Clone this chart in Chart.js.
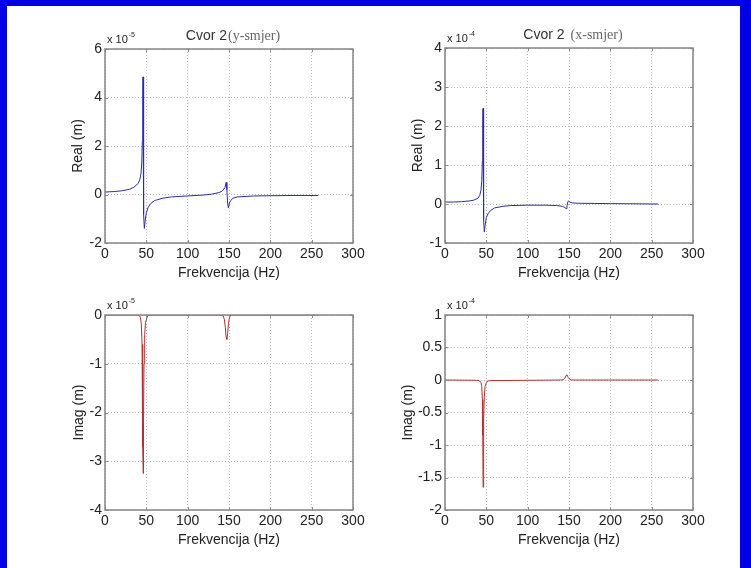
<!DOCTYPE html>
<html>
<head>
<meta charset="utf-8">
<script src="https://cdn.jsdelivr.net/npm/chart.js@4.4.0/dist/chart.umd.min.js"></script>
<style>
  html, body { margin: 0; padding: 0; background: #fff; }
  body { width: 751px; height: 568px; position: relative; overflow: hidden; }
  #frame {
    position: absolute; left: 0; top: 0; width: 751px; height: 568px; box-sizing: border-box;
    border-top: 6px solid #0000e6; border-left: 7px solid #0000e6; border-right: 11px solid #0000e6;
  }
  canvas { position: absolute; }
</style>
</head>
<body>
<div id="frame"></div>
<canvas id="c1"></canvas>
<canvas id="c2"></canvas>
<canvas id="c3"></canvas>
<canvas id="c4"></canvas>
<script>
// ================= DATA =================
// frequency axis ticks (Hz)
const freqTicks = [0, 50, 100, 150, 200, 250, 300];

// Cvor 2 (y-smjer), realni dio, x 10^-5
const freqReY = [0, 10, 20, 30, 35, 40, 42, 43.5, 44.5, 45.2, 45.7, 46, 46.4, 47, 47.6, 48.5, 50, 52, 55, 60,
  70, 80, 100, 120, 130, 138, 142, 145, 146.6, 147.4, 148.3, 149.2, 150.5, 152, 155, 160, 180, 200, 230, 258];
const realY = [0.1, 0.12, 0.15, 0.22, 0.3, 0.45, 0.6, 0.85, 1.3, 2.2, 4.2, 4.85, 1.5, -0.8, -1.4, -1.1, -0.75, -0.55, -0.38, -0.25,
  -0.15, -0.1, -0.06, -0.02, 0.02, 0.08, 0.15, 0.28, 0.5, 0.2, -0.35, -0.55, -0.35, -0.25, -0.15, -0.1, -0.06, -0.05, -0.04, -0.04];

// Cvor 2 (x-smjer), realni dio, x 10^-4
const freqReX = [0, 10, 20, 30, 35, 40, 42, 43.5, 44.5, 45.2, 45.7, 46, 46.4, 47, 47.6, 48.5, 50, 52, 55, 60,
  70, 80, 100, 120, 135, 142, 145, 146.5, 147.5, 148.5, 149.5, 151, 154, 160, 200, 258];
const realX = [0.05, 0.05, 0.06, 0.08, 0.1, 0.15, 0.22, 0.35, 0.6, 1.1, 2.1, 2.45, 0.8, -0.4, -0.72, -0.55, -0.35, -0.25, -0.17, -0.1,
  -0.06, -0.04, -0.03, -0.03, -0.04, -0.06, -0.09, -0.12, -0.05, 0.05, 0.08, 0.05, 0.03, 0.02, 0.01, 0];

// Cvor 2 (y-smjer), imaginarni dio, x 10^-5
const freqImY = [0, 40, 42, 43, 44, 44.8, 45.4, 45.8, 46.2, 46.6, 47.2, 48, 49, 51, 53,
  140, 143, 144.5, 145.5, 146.5, 147.3, 148.3, 149.3, 150.5, 152, 258];
const imagY = [0, 0, -0.02, -0.06, -0.2, -0.6, -1.6, -2.7, -3.25, -2.2, -1.0, -0.4, -0.15, -0.04, 0,
  0, -0.02, -0.1, -0.25, -0.45, -0.5, -0.38, -0.18, -0.06, 0, 0];

// Cvor 2 (x-smjer), imaginarni dio, x 10^-4
const freqImX = [0, 40, 42, 43.5, 44.5, 45.2, 45.7, 46.1, 46.5, 47, 47.6, 48.5, 50, 53,
  140, 143, 145, 146.5, 147.5, 149, 151, 153, 258];
const imagX = [0, -0.005, -0.015, -0.04, -0.1, -0.3, -0.85, -1.65, -1.3, -0.6, -0.25, -0.1, -0.04, -0.01,
  0, 0.005, 0.03, 0.07, 0.08, 0.04, 0.01, 0, 0];

// y axis ticks per panel
const yTicksReY = [-2, 0, 2, 4, 6];
const yTicksReX = [-1, 0, 1, 2, 3, 4];
const yTicksImY = [-4, -3, -2, -1, 0];
const yTicksImX = [-2, -1.5, -1, -0.5, 0, 0.5, 1];

const BLUE = '#2b2ba6';
const RED = '#b03030';

// ================= TEXT + BOX PLUGIN =================
const matlabAxes = {
  id: 'matlabAxes',
  afterDraw(chart, args, o) {
    const { ctx, chartArea: a } = chart;
    const xs = chart.scales.x, ys = chart.scales.y;
    ctx.save();

    // inward tick marks
    ctx.strokeStyle = '#8a8a8a';
    ctx.lineWidth = 1;
    ctx.beginPath();
    xs.ticks.forEach(t => {
      const px = Math.round(xs.getPixelForValue(t.value)) + 0.5;
      ctx.moveTo(px, a.top); ctx.lineTo(px, a.top + 3);
      ctx.moveTo(px, a.bottom); ctx.lineTo(px, a.bottom - 3);
    });
    ys.ticks.forEach(t => {
      const py = Math.round(ys.getPixelForValue(t.value)) + 0.5;
      ctx.moveTo(a.left, py); ctx.lineTo(a.left + 3, py);
      ctx.moveTo(a.right, py); ctx.lineTo(a.right - 3, py);
    });
    ctx.stroke();

    // box
    ctx.lineWidth = 1.5;
    ctx.strokeStyle = '#858585';
    ctx.strokeRect(a.left, a.top, a.right - a.left, a.bottom - a.top);

    ctx.fillStyle = '#222';
    // x label
    ctx.font = '14px "Liberation Sans", Arial, sans-serif';
    ctx.textAlign = 'center';
    ctx.textBaseline = 'middle';
    ctx.fillText('Frekvencija (Hz)', (a.left + a.right) / 2, a.bottom + 30);

    // y label
    ctx.save();
    ctx.translate(a.left - o.ylabelDx, (a.top + a.bottom) / 2);
    ctx.rotate(-Math.PI / 2);
    ctx.fillText(o.ylabel, 0, 0);
    ctx.restore();

    // exponent
    ctx.textAlign = 'left';
    ctx.textBaseline = 'alphabetic';
    ctx.font = '11px "Liberation Sans", Arial, sans-serif';
    ctx.fillText('x 10', a.left + 2, a.top - 6);
    const w = ctx.measureText('x 10').width;
    ctx.font = '7px "Liberation Sans", Arial, sans-serif';
    ctx.fillText(o.exp, a.left + 3 + w, a.top - 12);

    // title
    if (o.title) {
      ctx.font = '14px "Liberation Sans", Arial, sans-serif';
      const w1 = ctx.measureText(o.title[0]).width;
      ctx.font = '14px "Liberation Serif", "Times New Roman", serif';
      const w2 = ctx.measureText(o.title[1]).width;
      const x0 = (a.left + a.right) / 2 + 4 - (w1 + o.gap + w2) / 2;
      ctx.fillStyle = '#333';
      ctx.font = '14px "Liberation Sans", Arial, sans-serif';
      ctx.fillText(o.title[0], x0, a.top - 9);
      ctx.fillStyle = '#666';
      ctx.font = '14px "Liberation Serif", "Times New Roman", serif';
      ctx.fillText(o.title[1], x0 + w1 + o.gap, a.top - 9);
    }
    ctx.restore();
  }
};

// ================= PANELS =================
function makePanel(id, area, freq, vals, color, yTicks, text) {
  const [L, T, R, B] = area;
  const padL = 60, padT = 30, padR = 25, padB = 50;
  const cv = document.getElementById(id);
  cv.width = (R - L) + padL + padR;
  cv.height = (B - T) + padT + padB;
  cv.style.left = (L - padL) + 'px';
  cv.style.top = (T - padT) + 'px';

  const pts = freq.map((f, i) => ({ x: f, y: vals[i] }));
  const step = yTicks[1] - yTicks[0];

  return new Chart(cv, {
    type: 'line',
    data: {
      datasets: [{
        data: pts,
        borderColor: color,
        borderWidth: 1,
        pointRadius: 0,
        tension: 0,
        fill: false
      }]
    },
    options: {
      responsive: false,
      animation: false,
      layout: { padding: { left: 0, top: padT, right: padR, bottom: 0 } },
      plugins: {
        legend: { display: false },
        tooltip: { enabled: false },
        matlabAxes: text
      },
      scales: {
        x: {
          type: 'linear',
          min: freqTicks[0],
          max: freqTicks[freqTicks.length - 1],
          afterFit: s => { s.height = padB; },
          ticks: { stepSize: freqTicks[1] - freqTicks[0], color: '#222', padding: 3, maxRotation: 0, autoSkip: false,
            font: { size: 14 } },
          grid: { color: '#b8b8b8', lineWidth: 1, drawTicks: false },
          border: { display: false, dash: [1, 2] }
        },
        y: {
          type: 'linear',
          min: yTicks[0],
          max: yTicks[yTicks.length - 1],
          afterFit: s => { s.width = padL; },
          ticks: { stepSize: step, color: '#222', padding: 3, autoSkip: false, font: { size: 14 },
            callback: v => String(Math.round(v * 100) / 100) },
          grid: { color: '#b8b8b8', lineWidth: 1, drawTicks: false },
          border: { display: false, dash: [1, 2] }
        }
      }
    },
    plugins: [matlabAxes]
  });
}

Chart.defaults.font.family = '"Liberation Sans", Arial, sans-serif';

makePanel('c1', [105, 49, 353, 243], freqReY, realY, BLUE, yTicksReY,
  { ylabel: 'Real (m)', ylabelDx: 27, exp: '-5', title: ['Cvor 2', '(y-smjer)'], gap: 1 });
makePanel('c2', [445, 48, 693, 243], freqReX, realX, BLUE, yTicksReX,
  { ylabel: 'Real (m)', ylabelDx: 27, exp: '-4', title: ['Cvor 2', '(x-smjer)'], gap: 6 });
makePanel('c3', [105, 315, 353, 510], freqImY, imagY, RED, yTicksImY,
  { ylabel: 'Imag (m)', ylabelDx: 26, exp: '-5' });
makePanel('c4', [445, 315, 693, 510], freqImX, imagX, RED, yTicksImX,
  { ylabel: 'Imag (m)', ylabelDx: 37, exp: '-4' });
</script>
</body>
</html>
